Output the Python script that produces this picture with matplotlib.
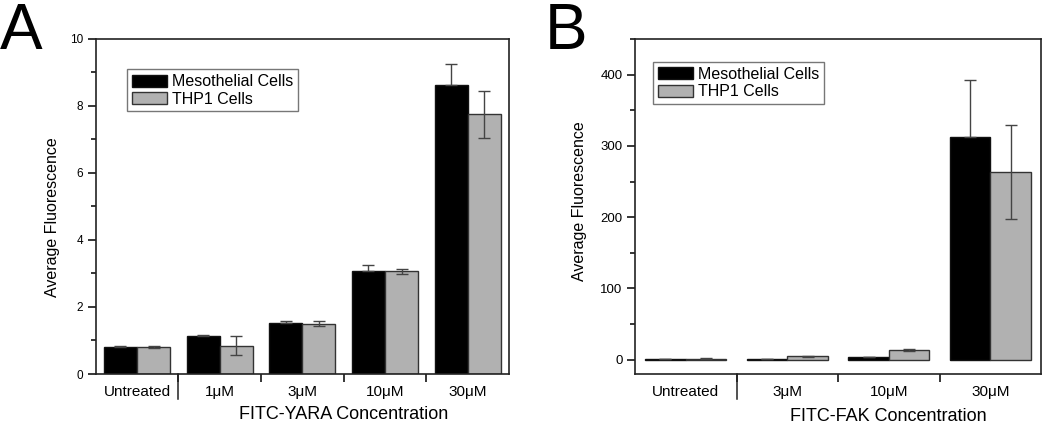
import numpy as np
import matplotlib
matplotlib.use("Agg")
import matplotlib.pyplot as plt
from matplotlib.ticker import MultipleLocator

plt.rcParams['font.family'] = ['Liberation Sans', 'DejaVu Sans']

# Panel A: FITC-YARA
yara_labels = ["Untreated", "1\u03bcM", "3\u03bcM", "10\u03bcM", "30\u03bcM"]
yara_meso = [0.81, 1.13, 1.52, 3.08, 8.61]
yara_meso_err = [0.02, 0.03, 0.05, 0.18, 0.64]
yara_thp1 = [0.80, 0.85, 1.50, 3.06, 7.74]
yara_thp1_err = [0.03, 0.29, 0.08, 0.08, 0.70]

# Panel B: FITC-FAK
fak_labels = ["Untreated", "3\u03bcM", "10\u03bcM", "30\u03bcM"]
fak_meso = [1.0, 1.0, 3.7, 313]
fak_meso_err = [0.3, 0.3, 0.5, 79.5]
fak_thp1 = [1.5, 4.7, 13.5, 263]
fak_thp1_err = [0.3, 0.5, 1.0, 66]

BLACK = "#000000"
GRAY = "#b1b1b1"
ERRC = "#444444"


def draw_panel(ax, labels, meso, meso_err, thp1, thp1_err, xlabel, ylim, major, minor,
               ytick_size, leg_anchor, ylabel_coords, xlabel_y):
    x = np.arange(len(labels))
    w = 0.4
    ax.bar(x - w / 2, meso, w, color=BLACK, edgecolor="#111111", linewidth=1.0, zorder=2,
           label="Mesothelial Cells")
    ax.bar(x + w / 2, thp1, w, color=GRAY, edgecolor="#333333", linewidth=1.0, zorder=2,
           label="THP1 Cells")
    # black bars hide the lower half of their error bars
    ax.errorbar(x - w / 2, meso, yerr=[np.zeros(len(meso)), meso_err], fmt="none",
                ecolor=ERRC, elinewidth=1.0, capsize=4, capthick=1.0, zorder=3)
    ax.errorbar(x + w / 2, thp1, yerr=thp1_err, fmt="none",
                ecolor=ERRC, elinewidth=1.0, capsize=4, capthick=1.0, zorder=3)

    ax.set_xlim(-0.5, len(labels) - 0.5)
    ax.set_ylim(*ylim)
    ax.yaxis.set_major_locator(MultipleLocator(major))
    ax.yaxis.set_minor_locator(MultipleLocator(minor))
    ax.tick_params(axis="y", which="major", direction="out", length=6, width=1.1,
                   labelsize=ytick_size, right=False, pad=3)
    ax.tick_params(axis="y", which="minor", direction="out", length=3.5, width=1.1, right=False)

    ax.set_xticks(x)
    ax.set_xticklabels(labels, fontsize=11)
    ax.set_xticks(x[:-1] + 0.5, minor=True)
    ax.tick_params(axis="x", which="major", length=0, pad=8)
    ax.tick_params(axis="x", which="minor", direction="out", length=6, width=1.1, top=False)
    # long separator after "Untreated"
    ax.plot([0.5, 0.5], [0, -0.075], transform=ax.get_xaxis_transform(), color="#222222",
            linewidth=1.1, clip_on=False)

    for s in ax.spines.values():
        s.set_linewidth(1.2)
        s.set_color("#222222")

    ax.set_ylabel("Average Fluorescence", fontsize=11.5)
    ax.yaxis.set_label_coords(*ylabel_coords)
    # x label is centred over the treated groups
    xc = (0.5 + len(labels) - 0.5) / 2
    ax.text(xc, xlabel_y, xlabel, transform=ax.get_xaxis_transform(), ha="center", va="top",
            fontsize=13)

    leg = ax.legend(loc="upper left", bbox_to_anchor=leg_anchor, borderaxespad=0,
                    fontsize=11.5, fancybox=False, framealpha=1, edgecolor="#777777",
                    handlelength=2.2, handleheight=0.8, handletextpad=0.3,
                    labelspacing=0.15, borderpad=0.3)
    leg.get_frame().set_linewidth(1.0)


fig = plt.figure(figsize=(10.5, 4.23), dpi=100)
axA = fig.add_axes([0.0911, 0.1158, 0.3937, 0.793])
axB = fig.add_axes([0.6048, 0.1158, 0.3867, 0.792])

draw_panel(axA, yara_labels, yara_meso, yara_meso_err, yara_thp1, yara_thp1_err,
           "FITC-YARA Concentration", (0, 10), 2, 1, 8.5, (0.076, 0.908), (-0.086, 0.467),
           -0.096)
draw_panel(axB, fak_labels, fak_meso, fak_meso_err, fak_thp1, fak_thp1_err,
           "FITC-FAK Concentration", (-20, 450), 100, 50, 9.5, (0.044, 0.931), (-0.118, 0.516),
           -0.1)

fig.text(0.0, 0.995, "A", fontsize=46, ha="left", va="top")
fig.text(0.519, 0.995, "B", fontsize=46, ha="left", va="top")

fig.savefig("out.png", dpi=100)
